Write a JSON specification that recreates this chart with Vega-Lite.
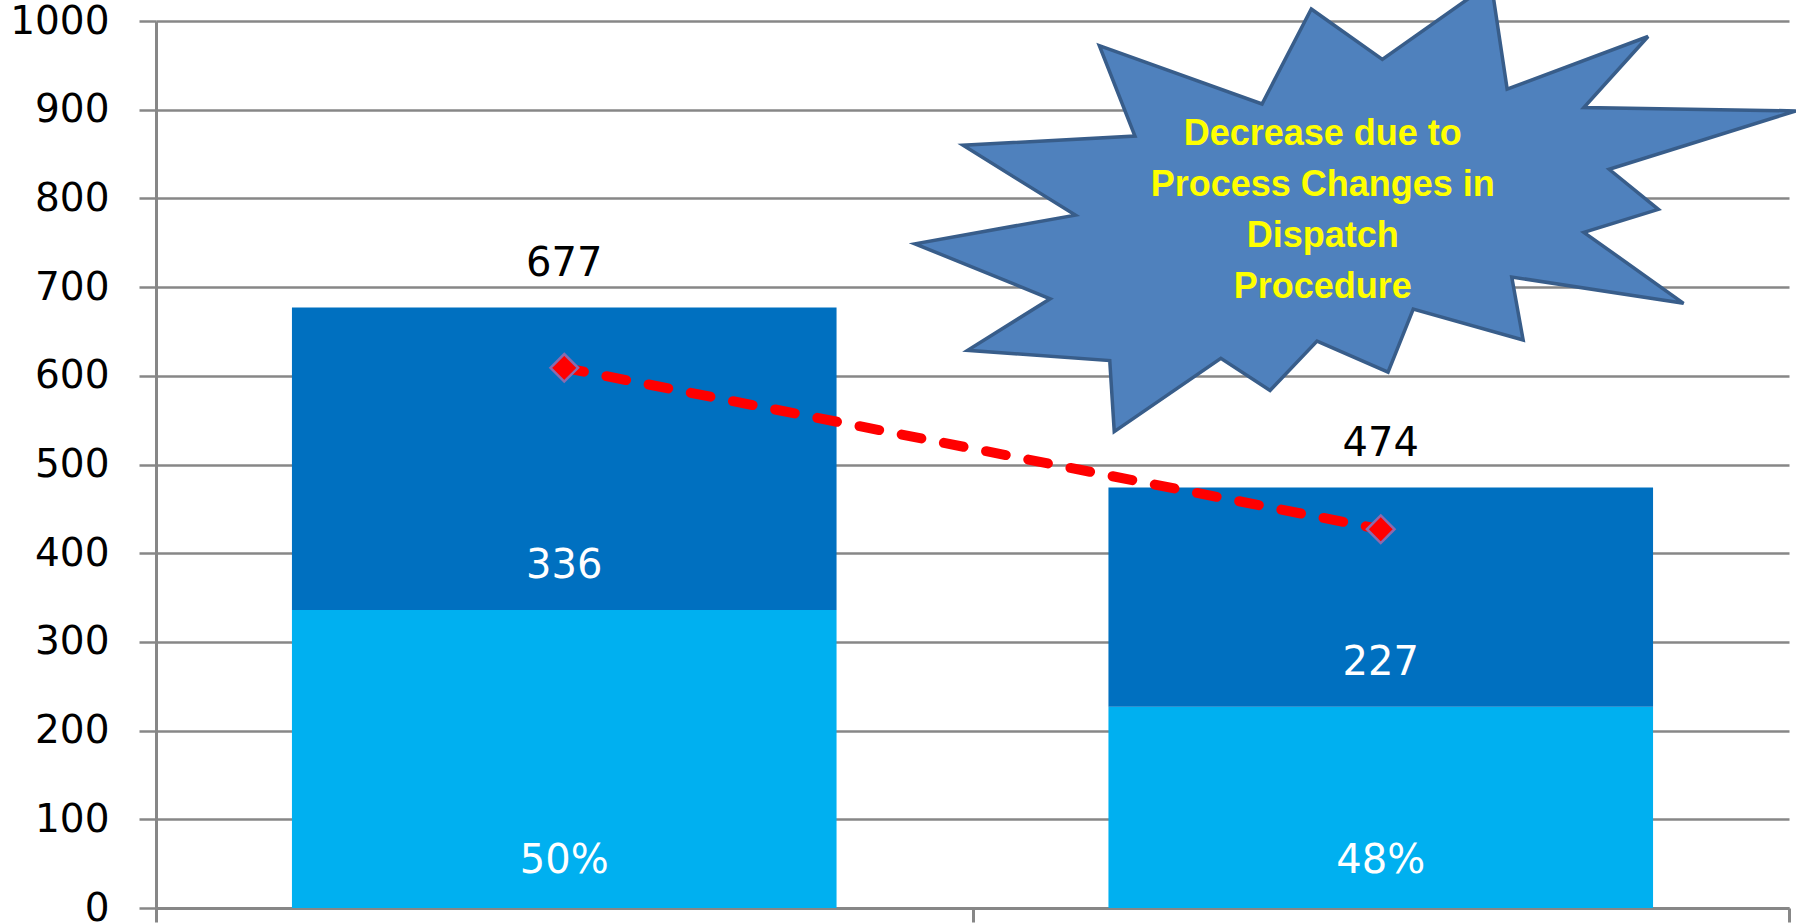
{
  "$schema": "https://vega.github.io/schema/vega-lite/v6.json",
  "width": 1633,
  "height": 887,
  "autosize": {"type": "none"},
  "padding": {"left": 156, "top": 21, "right": 7, "bottom": 15},
  "background": "white",
  "config": {"view": {"stroke": null}},
  "data": {
    "values": [
      {"cat": "A", "lower": 336, "total": 677, "pct": "50%", "target": 609},
      {"cat": "B", "lower": 227, "total": 474, "pct": "48%", "target": 427}
    ]
  },
  "encoding": {
    "x": {
      "field": "cat",
      "type": "nominal",
      "scale": {"paddingInner": 0, "paddingOuter": 0},
      "axis": {
        "title": null,
        "labels": false,
        "tickBand": "extent",
        "tickSize": 14,
        "tickWidth": 3,
        "tickColor": "#878787",
        "domainColor": "#878787",
        "domainWidth": 3,
        "grid": false
      }
    }
  },
  "layer": [
    {
      "mark": {"type": "bar", "color": "#00B0F0", "width": {"band": 0.667}},
      "encoding": {
        "y": {
          "field": "lower",
          "type": "quantitative",
          "scale": {"domain": [0, 1000], "nice": false},
          "axis": {
            "title": null,
            "values": [0, 100, 200, 300, 400, 500, 600, 700, 800, 900, 1000],
            "format": "d",
            "grid": true,
            "gridColor": "#878787",
            "gridWidth": 2.5,
            "domainColor": "#878787",
            "domainWidth": 3,
            "tickColor": "#878787",
            "tickWidth": 2.5,
            "tickSize": 17,
            "labelFont": "DejaVu Sans",
            "labelFontSize": 39,
            "labelColor": "#000000",
            "labelPadding": 30,
            "labelOverlap": false,
            "labelBound": false,
            "labelFlush": false
          }
        }
      }
    },
    {
      "mark": {"type": "bar", "color": "#0070C0", "width": {"band": 0.667}},
      "encoding": {
        "y": {"field": "total", "type": "quantitative"},
        "y2": {"field": "lower"}
      }
    },
    {
      "mark": {"type": "line", "color": "#FF0000", "strokeWidth": 10, "strokeDash": [20, 23], "strokeCap": "round"},
      "encoding": {"y": {"field": "target", "type": "quantitative"}}
    },
    {
      "mark": {"type": "point", "shape": "diamond", "size": 760, "filled": true, "fill": "#FF0000", "stroke": "#8A6BAE", "strokeWidth": 2.5, "opacity": 1},
      "encoding": {"y": {"field": "target", "type": "quantitative"}}
    },
    {
      "mark": {"type": "text", "font": "DejaVu Sans", "fontSize": 40, "color": "#000000", "baseline": "middle", "dy": -44},
      "encoding": {"y": {"field": "total", "type": "quantitative"}, "text": {"field": "total"}}
    },
    {
      "mark": {"type": "text", "font": "DejaVu Sans", "fontSize": 40, "color": "#FFFFFF", "baseline": "middle", "dy": -44},
      "encoding": {"y": {"field": "lower", "type": "quantitative"}, "text": {"field": "lower"}}
    },
    {
      "mark": {"type": "text", "font": "DejaVu Sans", "fontSize": 40, "color": "#FFFFFF", "baseline": "middle", "dy": -47},
      "encoding": {"y": {"datum": 0, "type": "quantitative"}, "text": {"field": "pct"}}
    },
    {
      "data": {"values": [{"cat": "B", "note": "Decrease due to\nProcess Changes in\nDispatch\nProcedure"}]},
      "layer": [
        {
          "mark": {
            "type": "point",
            "shape": "M-0.695,-2.027 L0.016,-1.523 L1.104,-2.291 L1.264,-1.226 L2.673,-1.752 L2.031,-1.042 L4.151,-1.008 L2.284,-0.424 L2.776,-0.023 L2.031,0.206 L3.028,0.916 L1.310,0.653 L1.424,1.283 L0.325,0.974 L0.073,1.604 L-0.637,1.294 L-1.107,1.787 L-1.599,1.466 L-2.665,2.199 L-2.710,1.489 L-4.131,1.386 L-3.306,0.871 L-4.658,0.321 L-3.054,0.034 L-4.177,-0.664 L-2.458,-0.756 L-2.814,-1.661 L-1.187,-1.077 Z",
            "size": 40000,
            "filled": true,
            "fill": "#4F81BD",
            "stroke": "#385D8A",
            "strokeWidth": 3.5,
            "strokeJoin": "miter",
            "opacity": 1
          },
          "encoding": {"y": {"datum": 785, "type": "quantitative"}}
        },
        {
          "mark": {
            "type": "text",
            "font": "Liberation Sans",
            "fontWeight": "bold",
            "fontSize": 36,
            "color": "#FFFF00",
            "align": "center",
            "baseline": "middle",
            "lineBreak": "\n",
            "lineHeight": 51,
            "dx": -58,
            "dy": -78
          },
          "encoding": {"y": {"datum": 785, "type": "quantitative"}, "text": {"field": "note"}}
        }
      ]
    }
  ]
}
